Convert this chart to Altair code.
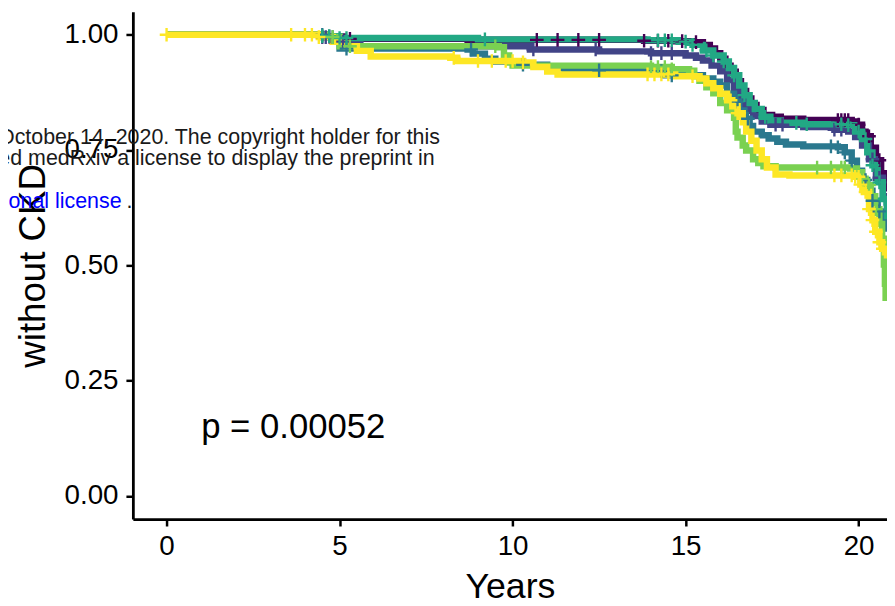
import altair as alt
import pandas as pd

# ---------------- data ----------------
GROUPS = ["Q1", "Q2", "Q3", "Q4", "Q5", "Q6"]
COLORS = ["#440154", "#414487", "#2A788E", "#22A884", "#7AD151", "#FDE725"]

# Q1 (dark purple)
T1 = [0, 4.6, 5.1, 8.7, 13.8, 14.7, 15.2, 15.5, 15.7, 15.85, 16.0, 16.15, 16.3, 16.45,
      16.6, 16.75, 16.9, 17.05, 17.25, 17.5, 17.75, 18.4, 19.8, 19.95, 20.1, 20.2,
      20.35, 20.5, 20.65, 20.75, 20.82]
S1 = [1.0, 0.996, 0.991, 0.989, 0.987, 0.986, 0.984, 0.978, 0.970, 0.960, 0.948, 0.933,
      0.920, 0.899, 0.878, 0.862, 0.848, 0.837, 0.826, 0.822, 0.818, 0.815, 0.812, 0.805,
      0.790, 0.780, 0.755, 0.728, 0.700, 0.678, 0.660]
C1 = [4.7, 5.3, 10.7, 11.3, 11.9, 12.5, 13.8, 14.2, 14.5, 14.9, 15.3, 19.4, 19.5,
      19.6, 19.7, 20.0, 20.3, 20.6]

# Q2 (indigo)
T2 = [0, 4.5, 5.0, 5.6, 10.5, 12.5, 14.0, 15.0, 15.3, 15.5, 15.75, 16.0, 16.2, 16.4,
      16.55, 16.7, 16.85, 16.95, 17.2, 17.45, 18.4, 19.3, 19.7, 19.9, 20.1, 20.3, 20.5,
      20.7, 20.82]
S2 = [1.0, 0.995, 0.985, 0.975, 0.968, 0.964, 0.960, 0.955, 0.950, 0.944, 0.933, 0.921,
      0.902, 0.884, 0.866, 0.848, 0.835, 0.824, 0.812, 0.805, 0.800, 0.794, 0.790, 0.778,
      0.760, 0.730, 0.690, 0.650, 0.625]
C2 = [4.5, 4.6, 5.1, 10.6, 12.4, 14.0, 14.3, 14.6, 17.6, 17.8, 19.3, 19.5, 20.4, 20.6]

# Q3 (steel teal)
T3 = [0, 4.6, 5.0, 8.7, 8.85, 9.2, 9.5, 10.3, 11.0, 11.5, 14.0, 14.4, 15.5, 15.8, 16.0,
      16.2, 16.4, 16.55, 16.7, 16.85, 16.95, 17.2, 17.4, 17.65, 17.9, 18.4, 19.4, 19.6,
      19.8, 19.95, 20.1, 20.25, 20.4, 20.55, 20.68, 20.82]
S3 = [1.0, 0.995, 0.970, 0.968, 0.959, 0.948, 0.942, 0.935, 0.928, 0.923, 0.921, 0.912,
      0.905, 0.898, 0.890, 0.872, 0.855, 0.836, 0.818, 0.802, 0.790, 0.782, 0.775, 0.768,
      0.762, 0.758, 0.756, 0.745, 0.727, 0.705, 0.685, 0.662, 0.640, 0.617, 0.594, 0.573]
C3 = [4.5, 4.8, 5.2, 8.8, 10.3, 12.5, 14.3, 14.6, 16.5, 16.8, 19.2, 19.4, 19.6, 19.8,
      20.2, 20.4, 20.6]

# Q4 (green-teal)
T4 = [0, 4.5, 5.0, 9.0, 13.9, 14.8, 15.2, 15.5, 15.8, 16.1, 16.25, 16.4, 16.55, 16.7,
      16.85, 17.0, 17.2, 17.45, 17.75, 18.4, 19.7, 19.9, 20.1, 20.25, 20.4, 20.55, 20.7,
      20.82]
S4 = [1.0, 0.997, 0.993, 0.990, 0.988, 0.985, 0.978, 0.966, 0.955, 0.942, 0.928, 0.912,
      0.890, 0.869, 0.852, 0.839, 0.822, 0.814, 0.809, 0.806, 0.804, 0.790, 0.774, 0.745,
      0.717, 0.680, 0.644, 0.600]
C4 = [4.5, 4.7, 5.0, 5.2, 9.2, 14.2, 14.4, 14.6, 15.0, 15.2, 15.6, 15.8, 16.1, 16.4,
      16.7, 17.3, 18.2, 18.5, 19.5, 19.7, 20.0, 20.2, 20.4, 20.6, 20.75]

# Q5 (light green)
T5 = [0, 4.6, 5.0, 9.6, 9.75, 9.9, 10.0, 14.0, 14.6, 15.1, 15.25, 15.4, 15.6, 15.8, 16.0,
      16.2, 16.4, 16.45, 16.5, 16.65, 16.75, 16.95, 17.1, 17.25, 17.6, 19.75, 19.95, 20.1,
      20.2, 20.35, 20.48, 20.6, 20.68, 20.73, 20.76, 20.78, 20.82]
S5 = [1.0, 0.995, 0.975, 0.973, 0.955, 0.940, 0.933, 0.930, 0.925, 0.922, 0.910, 0.900,
      0.886, 0.873, 0.852, 0.836, 0.820, 0.790, 0.777, 0.760, 0.749, 0.730, 0.722, 0.715,
      0.712, 0.710, 0.702, 0.688, 0.674, 0.650, 0.622, 0.590, 0.558, 0.502, 0.460, 0.430,
      0.430]
C5 = [4.8, 5.3, 9.5, 14.0, 14.2, 14.4, 14.6, 18.8, 19.2, 19.5, 19.6, 20.1, 20.3, 20.5]

# Q6 (yellow)
T6 = [0, 4.4, 4.8, 5.2, 5.5, 5.9, 8.2, 8.4, 10.3, 10.6, 11.0, 11.3, 14.7, 15.4, 15.6,
      15.8, 16.0, 16.2, 16.35, 16.5, 16.65, 16.75, 16.9, 17.05, 17.2, 17.35, 17.6, 18.0,
      19.9, 20.05, 20.15, 20.3, 20.4, 20.48, 20.6, 20.68, 20.82]
S6 = [1.0, 0.995, 0.985, 0.975, 0.965, 0.953, 0.950, 0.943, 0.940, 0.930, 0.920, 0.914,
      0.910, 0.905, 0.895, 0.884, 0.872, 0.858, 0.845, 0.830, 0.810, 0.790, 0.770, 0.749,
      0.730, 0.712, 0.697, 0.695, 0.692, 0.675, 0.659, 0.622, 0.598, 0.573, 0.550, 0.536,
      0.515]
C6 = [0.0, 3.6, 4.0, 4.2, 4.4, 8.3, 9.0, 9.4, 9.8, 10.0, 10.3, 13.9, 14.1, 14.3, 14.5,
      15.2, 16.3, 16.5, 16.55, 19.3, 19.5, 19.8, 19.9, 20.0, 20.05, 20.2, 20.3, 20.4,
      20.5, 20.6, 20.7]

TIMES = [T1, T2, T3, T4, T5, T6]
SURVS = [S1, S2, S3, S4, S5, S6]
CENSORS = [C1, C2, C3, C4, C5, C6]

X_TICKS = [0, 5, 10, 15, 20]
Y_TICKS = [0.0, 0.25, 0.5, 0.75, 1.0]
PVAL_TEXT = "p = 0.00052"

# ---------------- tables ----------------
line_rows, cens_rows = [], []
for g, ts, ss, cs in zip(GROUPS, TIMES, SURVS, CENSORS):
    for t, s in zip(ts, ss):
        line_rows.append({"group": g, "time": t, "surv": s})
    for c in cs:
        val = ss[0]
        for t, s in zip(ts, ss):
            if t <= c:
                val = s
        cens_rows.append({"group": g, "time": c, "surv": val})
lines_df = pd.DataFrame(line_rows)
cens_df = pd.DataFrame(cens_rows)

FONT = "Liberation Sans"
xscale = alt.Scale(domain=[-0.974, 20.82], nice=False, zero=False)
yscale = alt.Scale(domain=[-0.05, 1.05], nice=False, zero=False)
cscale = alt.Scale(domain=GROUPS, range=COLORS)

xenc = alt.X("time:Q", scale=xscale,
             axis=alt.Axis(values=X_TICKS, title="Years", grid=False, format="d",
                           labelFontSize=28, titleFontSize=36, labelPadding=7,
                           titlePadding=9, tickSize=7, labelFlush=False,
                           titleFontWeight="normal"))
yenc = alt.Y("surv:Q", scale=yscale,
             axis=alt.Axis(values=Y_TICKS, title="without CKD", grid=False, format=".2f",
                           labelFontSize=28, titleFontSize=37, labelPadding=8,
                           tickSize=7, titleX=-100, titleBaseline="middle",
                           labelFlush=False, titleFontWeight="normal"))

layers = []
for g in GROUPS:
    layers.append(
        alt.Chart(lines_df).transform_filter(alt.datum.group == g)
        .mark_line(interpolate="step-after", strokeWidth=6.5, clip=True)
        .encode(x=xenc, y=yenc,
                color=alt.Color("group:N", scale=cscale, legend=None))
    )

cross = "M-1,0L1,0M0,-1L0,1"
censor_layer = alt.Chart(cens_df).mark_point(
    shape=cross, filled=False, size=190, strokeWidth=2.4, opacity=1, clip=True
).encode(
    x="time:Q", y="surv:Q",
    color=alt.Color("group:N", scale=cscale, legend=None),
)

pval_df = pd.DataFrame({"time": [1.0], "surv": [0.15], "label": [PVAL_TEXT]})
pval_layer = alt.Chart(pval_df).mark_text(
    align="left", baseline="middle", fontSize=35, font=FONT, color="black"
).encode(x="time:Q", y="surv:Q", text="label:N")

# watermark text from the source page (partly cut off at the left edge)
WM_TEXT = [
    "this version posted October 14, 2020. The copyright holder for this",
    "preprint (which was not certified by peer review) is the author/funder, who has granted medRxiv a license to display the preprint in",
]
WM_X = [7.90, 7.75]
WM_Y = [0.776, 0.731]
wm_df = pd.DataFrame({"time": WM_X, "surv": WM_Y, "label": WM_TEXT})
wm_layer = alt.Chart(wm_df).mark_text(
    align="right", baseline="middle", fontSize=21.6, font=FONT, color="#1a1a1a"
).encode(x="time:Q", y="surv:Q", text="label:N")

lic_df = pd.DataFrame({"time": [-1.30], "surv": [0.637],
                       "label": ["It is made available under a CC-BY-NC-ND 4.0 International license"]})
lic_layer = alt.Chart(lic_df).mark_text(
    align="right", baseline="middle", fontSize=21.6, font=FONT, color="#0000FF"
).encode(x="time:Q", y="surv:Q", text="label:N")
dot_df = pd.DataFrame({"time": [-1.30], "surv": [0.637], "label": ["."]})
dot_layer = alt.Chart(dot_df).mark_text(
    align="left", baseline="middle", fontSize=21.6, font=FONT, color="#1a1a1a", dx=5
).encode(x="time:Q", y="surv:Q", text="label:N")

chart = alt.layer(*layers, censor_layer, pval_layer, wm_layer, lic_layer, dot_layer).properties(
    width=761, height=512,
    autosize=alt.AutoSizeParams(type="none"),
    padding={"left": 126, "top": 1, "right": 0, "bottom": 83},
    background="white",
).configure_view(stroke=None).configure_axis(
    domainColor="black", domainWidth=2.8, tickColor="black", tickWidth=2.5,
    labelColor="black", titleColor="black", labelFont=FONT, titleFont=FONT,
    titleFontWeight="normal",
)

chart.save("out.html", embed_options={"renderer": "svg", "actions": False})
